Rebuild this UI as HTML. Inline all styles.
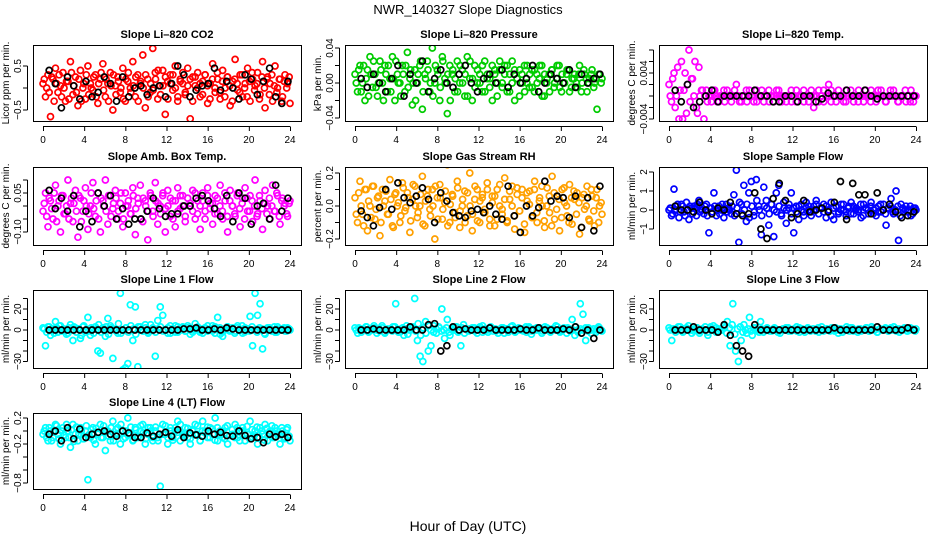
<!DOCTYPE html>
<html><head><meta charset="utf-8">
<style>
html,body{margin:0;padding:0;background:#fff;}
svg{display:block;font-family:"Liberation Sans",Arial,sans-serif;}
</style></head>
<body>
<svg id="chart" width="936" height="540" viewBox="0 0 936 540" xmlns="http://www.w3.org/2000/svg">
<text x="468" y="14" text-anchor="middle" font-size="13">NWR_140327  Slope Diagnostics</text>
<text x="468" y="531" text-anchor="middle" font-size="14">Hour of Day (UTC)</text>
</svg>
<script>
// ---- data (samples spread evenly over 0-24 h) ----
const hourTicks = [0,4,8,12,16,20,24];
const co2Vals = [0.1,-0.2,0.3,-0.65,0.2,0.45,-0.1,0.05,0.35,-0.3,0.15,0.6,-0.15,0.25,-0.4,0.4,0.0,-0.25,0.5,0.1,-0.05,0.3,-0.35,0.2,0.55,-0.2,0.1,0.35,-0.5,0.05,0.25,-0.1,0.45,-0.3,0.15,0.0,0.6,-0.2,0.3,0.1,0.75,-0.45,0.2,-0.1,0.9,0.35,-0.25,0.05,0.4,-0.6,0.15,0.3,-0.05,0.5,-0.3,0.2,0.1,-0.15,0.45,-0.7,0.25,0.05,0.35,-0.2,0.15,0.3,-0.35,0.1,0.55,-0.1,0.2,-0.25,0.4,0.0,0.25,-0.4,0.15,0.65,-0.05,0.3,-0.2,0.1,0.45,-0.3,0.2,0.05,0.35,-0.15,0.6,-0.45,0.25,0.1,-0.3,0.5,0.0,0.2,-0.2,0.3,0.1,-0.35];
const co2Vals2 = [0.2,0.0,-0.1,0.25,-0.3,0.1,0.3,-0.2,0.0,0.15,-0.25,0.35,0.05,-0.1,0.2,-0.3,0.1,0.3,-0.15,0.0,0.25,-0.2,0.1,0.35,-0.05,0.2,-0.3,0.05,0.3,-0.15,0.15,0.0,-0.25,0.2,0.35,-0.1,0.05,0.25,-0.3,0.15,0.0,0.3,-0.2,0.1,-0.05,0.2,0.4,-0.15,0.05,0.25,-0.25,0.1,0.3,0.0,-0.2,0.15,0.35,-0.1,0.05,0.2,-0.3,0.25,0.0,0.1,-0.15,0.3,0.05,-0.25,0.2,0.0,0.35,-0.1,0.15,-0.2,0.25,0.05,-0.3,0.2,0.1,-0.1,0.3,0.0,-0.2,0.15,0.35,-0.05,0.1,-0.25,0.25,0.0,0.2,-0.15,0.3,0.05,-0.1,0.2,-0.3,0.15,0.0,0.25];
const co2Ref = [0.4,0.1,-0.45,0.25,0.05,-0.25,0.15,-0.2,-0.1,0.25,0.1,-0.3,0.25,-0.2,0.0,0.05,-0.15,0.0,0.05,-0.2,0.1,0.5,0.3,-0.2,-0.05,0.05,0.1,0.45,-0.05,0.15,0.0,-0.25,0.3,0.2,-0.15,0.15,0.45,-0.2,-0.35,0.15];
const presVals = [0.01,-0.01,0.02,0.0,-0.02,0.015,0.03,-0.005,0.01,-0.015,0.025,0.0,0.02,-0.01,0.005,0.03,-0.02,0.01,0.0,0.02,-0.01,0.035,0.005,-0.025,0.015,0.0,0.02,-0.03,0.01,0.025,-0.01,0.04,0.0,0.015,-0.02,0.03,0.005,-0.035,0.02,0.01,-0.01,0.025,0.0,0.015,-0.015,0.03,0.005,-0.02,0.02,0.0,0.01,-0.01,0.025,0.005,-0.005,0.02,0.01,-0.015,0.015,0.0,0.02,-0.01,0.01,0.025,-0.02,0.005,0.015,0.0,-0.01,0.02,0.01,-0.005,0.015,0.0,0.02,-0.015,0.01,0.005,-0.01,0.015,0.0,0.02,-0.005,0.01,0.0,0.015,-0.01,0.005,0.01,-0.005,0.02,0.0,0.01,-0.01,0.005,0.015,0.0,-0.03,0.01,0.005];
const presVals2 = [0.0,0.015,-0.01,0.02,0.005,-0.015,0.01,0.025,-0.005,0.0,0.015,-0.02,0.01,0.02,-0.01,0.005,0.025,0.0,-0.015,0.01,0.02,-0.005,0.015,0.0,-0.02,0.01,0.025,-0.01,0.005,0.015,0.0,-0.015,0.02,0.01,-0.005,0.025,0.0,0.01,-0.02,0.015,0.005,-0.01,0.02,0.0,0.01,-0.015,0.025,0.005,-0.005,0.015,0.0,0.02,-0.01,0.01,0.005,-0.02,0.015,0.0,0.025,-0.005,0.01,0.02,-0.01,0.0,0.015,0.005,-0.015,0.01,0.02,0.0,-0.005,0.015,-0.01,0.01,0.005,0.02,-0.015,0.0,0.01,0.015,-0.005,0.005,0.02,-0.01,0.0,0.01,0.015,-0.005,0.005,0.0,0.01,-0.01,0.015,0.005,0.0,0.01,-0.005,0.005,0.01,0.0];
const presRef = [0.005,-0.005,0.01,0.0,-0.01,0.005,0.02,-0.015,0.01,0.0,0.025,-0.01,0.005,0.015,0.0,-0.005,0.01,0.02,0.0,-0.01,0.005,0.01,0.0,0.015,-0.005,0.01,0.0,0.005,0.02,-0.01,0.0,0.01,0.005,0.0,0.015,-0.005,0.01,0.0,0.005,0.01];
const tempVals = [0.002,-0.001,0.004,0.0,-0.004,0.006,0.001,-0.003,0.008,0.003,0.0,-0.002,0.005,0.001,-0.004,0.001,0.0,-0.001,0.001,0.0,-0.001,0.0,0.001,0.0,0.0,-0.001,0.0,0.002,0.0,-0.001,0.0,0.001,0.0,0.0,-0.001,0.001,0.0,0.0,-0.001,0.0,0.001,0.0,-0.001,0.0,0.001,0.0,0.0,-0.001,0.0,0.001,0.0,-0.001,0.0,0.0,0.001,0.0,-0.001,0.0,-0.002,0.0,0.001,0.0,-0.001,0.0,0.002,0.001,0.0,-0.001,0.0,0.0,-0.001,0.001,0.0,0.0,-0.001,0.0,0.001,0.0,-0.001,0.0,0.0,0.001,0.0,-0.001,0.0,0.001,0.0,-0.001,0.0,0.0,0.001,0.0,-0.001,0.0,0.0,-0.001,0.0,0.001,-0.001,0.0];
const tempVals2 = [0.0,0.003,-0.002,0.005,0.001,-0.004,0.004,0.002,-0.001,0.003,0.006,-0.003,0.0,0.001,0.0,-0.001,0.0,0.0,0.001,-0.001,0.0,0.0,-0.001,0.001,0.0,0.0,0.001,0.0,-0.001,0.0,0.0,-0.001,0.001,0.0,0.0,-0.001,0.0,0.001,0.0,0.0,-0.001,0.0,0.0,0.001,0.0,-0.001,0.0,0.0,0.0,-0.001,0.0,0.001,0.0,0.0,-0.001,0.0,0.0,0.001,0.0,0.0,-0.001,0.0,0.001,0.0,0.0,-0.001,0.0,0.0,0.001,0.0,0.0,-0.001,0.0,0.001,0.0,0.0,-0.001,0.0,0.0,0.001,0.0,-0.001,0.0,0.0,0.001,0.0,0.0,-0.001,0.0,0.001,0.0,0.0,-0.001,0.0,0.0,0.001,0.0,-0.001,0.0,0.0];
const tempRef = [0.001,-0.001,0.002,-0.002,-0.001,0.0,0.001,-0.001,0.0,0.0,0.0,0.0,0.0,0.001,0.0,0.0,-0.001,-0.001,0.0,0.0,-0.001,0.0,0.0,-0.001,-0.0005,0.0005,0.0,0.0,0.001,0.0,0.0,0.001,0.0,-0.0005,0.0,0.0,0.0,0.0,0.0,0.0];
const ambVals = [-0.02,0.05,-0.08,0.02,-0.05,0.08,0.0,-0.1,0.04,-0.03,0.1,0.01,-0.06,0.06,-0.12,0.03,-0.02,0.07,-0.09,0.0,0.09,-0.04,0.05,-0.1,0.02,0.1,-0.07,0.04,-0.01,0.06,-0.05,0.01,-0.08,0.05,0.0,-0.03,0.07,-0.11,0.03,0.08,-0.06,0.02,-0.13,0.05,-0.02,0.09,-0.07,0.0,0.04,-0.1,0.06,-0.04,0.02,-0.08,0.07,-0.01,0.04,-0.06,0.03,0.0,0.06,-0.05,0.02,-0.09,0.05,-0.02,0.07,0.01,-0.07,0.04,-0.03,0.08,-0.05,0.02,-0.1,0.06,0.0,-0.04,0.05,-0.08,0.03,0.07,-0.02,0.04,-0.06,0.1,-0.03,0.02,-0.09,0.06,0.0,-0.05,0.08,-0.02,0.04,-0.07,0.03,0.01,-0.04,0.02];
const ambVals2 = [0.01,-0.04,0.03,-0.01,0.05,-0.06,0.02,0.04,-0.03,0.0,-0.05,0.03,0.01,-0.02,0.04,-0.06,0.02,0.0,-0.03,0.05,-0.01,0.02,-0.05,0.03,0.0,-0.02,0.04,-0.04,0.01,0.03,-0.02,0.05,-0.05,0.0,0.02,-0.03,0.04,-0.01,0.01,-0.05,0.03,0.0,-0.02,0.04,-0.04,0.02,0.01,-0.03,0.05,-0.01,0.0,0.03,-0.05,0.02,-0.02,0.04,0.0,-0.04,0.03,0.01,-0.02,0.05,-0.03,0.0,0.02,-0.05,0.04,-0.01,0.01,-0.03,0.03,0.0,-0.02,0.05,-0.04,0.02,0.0,-0.03,0.04,-0.01,0.01,-0.05,0.03,-0.02,0.02,0.0,-0.04,0.04,-0.01,0.01,-0.03,0.03,0.0,-0.02,0.05,-0.04,0.02,0.0,-0.03,0.01];
const ambRef = [0.06,-0.01,0.03,-0.02,0.04,-0.08,-0.02,-0.06,0.05,0.0,0.04,-0.05,-0.01,-0.07,-0.05,-0.05,-0.02,0.03,-0.01,-0.04,-0.03,-0.03,0.0,0.0,0.03,0.04,0.02,-0.01,-0.04,0.04,-0.06,0.05,0.03,-0.07,0.0,0.01,-0.05,0.08,-0.02,0.03];
const rhVals = [0.05,-0.1,0.15,-0.05,0.1,-0.15,0.0,0.12,-0.08,0.05,-0.18,0.1,0.03,-0.05,0.16,-0.12,0.07,0.0,-0.1,0.14,-0.03,0.08,-0.16,0.04,0.12,-0.07,0.0,0.18,-0.12,0.06,-0.02,0.1,-0.2,0.05,0.13,-0.08,0.02,0.25,-0.1,0.07,-0.04,0.15,-0.13,0.0,0.09,-0.06,0.2,-0.15,0.04,0.1,-0.1,0.05,-0.02,0.14,-0.08,0.06,-0.12,0.1,0.0,-0.05,0.17,-0.09,0.04,0.12,-0.14,0.07,-0.03,0.1,-0.16,0.03,0.09,-0.07,0.15,-0.1,0.05,0.0,-0.13,0.11,-0.04,0.18,-0.08,0.06,-0.15,0.1,0.02,-0.06,0.13,-0.11,0.04,0.08,-0.17,0.05,-0.02,0.12,-0.09,0.06,-0.12,0.1,0.0,-0.05];
const rhVals2 = [-0.05,0.08,0.0,-0.12,0.1,0.03,-0.07,0.12,-0.02,0.06,-0.1,0.0,0.09,-0.05,0.04,-0.13,0.08,0.02,-0.06,0.11,-0.01,0.05,-0.09,0.13,0.0,-0.04,0.07,-0.11,0.03,0.1,-0.06,0.0,0.12,-0.08,0.05,-0.02,0.09,-0.12,0.01,0.06,-0.07,0.11,-0.03,0.04,-0.1,0.08,0.0,-0.05,0.12,-0.09,0.03,0.07,-0.04,0.1,-0.12,0.02,0.06,-0.08,0.13,-0.02,0.04,-0.1,0.09,0.0,-0.06,0.11,-0.03,0.05,-0.11,0.08,0.01,-0.07,0.1,-0.04,0.03,0.12,-0.09,0.0,0.06,-0.12,0.08,-0.02,0.04,-0.07,0.11,0.0,-0.1,0.05,0.09,-0.05,0.02,-0.13,0.07,0.0,-0.08,0.1,-0.03,0.05,-0.1,0.02];
const rhRef = [-0.03,-0.07,-0.12,-0.01,0.1,-0.02,0.14,0.05,0.02,0.06,0.11,0.04,-0.1,0.08,0.03,-0.04,-0.06,-0.07,-0.03,-0.02,-0.04,0.0,-0.05,-0.08,0.12,-0.06,-0.16,0.0,-0.06,-0.01,0.15,0.03,0.06,0.05,-0.07,0.06,-0.13,0.05,-0.15,0.12];
const flowVals = [0.0,-0.3,1.1,0.2,-0.4,0.3,-0.1,0.4,-0.5,0.1,0.2,-0.3,0.5,0.0,-0.2,0.3,-1.2,0.1,0.9,-0.3,0.2,0.0,-0.4,0.3,0.1,-0.2,0.8,2.1,-1.7,0.3,1.3,-0.6,0.9,1.5,-0.3,1.6,0.2,-1.3,1.2,0.5,-0.8,0.3,-1.4,0.9,1.3,-0.2,0.4,-0.7,0.1,0.9,-1.2,0.2,-0.5,0.3,-0.1,0.4,0.0,-0.3,0.2,0.5,-0.2,0.1,0.3,-0.4,0.0,0.4,-0.5,0.2,-0.1,0.3,0.0,-0.3,0.2,0.4,-0.2,0.1,0.0,-0.4,0.3,0.1,-0.2,0.4,0.0,-0.3,0.2,-0.1,0.3,-0.8,0.1,0.6,-0.2,1.0,-1.6,0.3,-0.1,0.2,0.0,-0.3,0.1,0.0];
const flowVals2 = [0.1,-0.2,0.0,0.3,-0.1,0.2,-0.3,0.0,0.2,-0.2,0.1,0.3,-0.1,0.0,0.2,-0.3,0.1,-0.1,0.2,0.0,-0.2,0.3,0.1,-0.1,0.0,0.2,-0.3,0.1,0.4,-0.2,0.0,0.3,-0.4,0.2,-0.1,0.5,0.0,-0.3,0.2,0.1,-0.2,0.3,0.0,-0.1,0.2,-0.3,0.1,0.0,0.3,-0.2,0.1,-0.1,0.2,0.0,-0.3,0.1,0.2,-0.1,0.0,0.3,-0.2,0.1,-0.1,0.2,0.0,-0.3,0.1,0.2,-0.2,0.0,0.3,-0.1,0.1,-0.2,0.2,0.0,-0.1,0.3,-0.3,0.1,0.0,0.2,-0.2,0.1,-0.1,0.3,0.0,-0.2,0.1,0.2,-0.1,0.0,0.2,-0.3,0.1,0.0,-0.1,0.2,-0.2,0.1];
const flowRef = [0.2,0.0,0.0,-0.1,0.4,0.0,-0.2,0.1,0.0,0.4,-0.2,-0.3,-0.2,0.9,-1.0,-1.5,0.6,1.4,0.5,-0.4,-0.2,0.5,-0.1,0.0,0.1,-0.1,0.4,1.5,-0.5,1.4,0.8,0.8,-0.2,0.9,0.0,0.3,-0.1,-0.4,-0.3,-0.1];
const line1Vals = [2,-15,3,-5,1,8,-2,4,0,-1,-3,5,-10,2,1,-8,3,-2,12,-5,1,3,-20,-22,2,-6,11,4,-27,0,-3,35,-38,-36,-32,24,-10,22,-35,3,-1,5,-2,0,2,-25,9,22,14,0,-3,4,1,-2,3,0,2,-1,4,0,-2,6,1,0,-3,2,4,0,-1,3,12,-4,-6,1,3,0,2,-1,4,0,-3,2,1,13,-15,35,14,25,-18,-4,2,1,0,-2,3,0,1,-1,2,0];
const line1Vals2 = [1,-2,3,0,-3,2,4,-1,1,-4,2,0,3,-2,1,-5,4,0,-1,2,-3,1,5,-2,0,3,-4,2,1,-1,6,-3,0,2,-2,4,1,-4,3,0,-1,2,-3,5,0,-2,1,3,-1,0,2,-3,1,4,-2,0,3,-1,2,-4,1,0,3,-2,1,2,-1,0,4,-3,1,2,-2,0,3,-1,1,-3,2,0,4,-2,1,-1,3,0,-2,2,1,-3,0,2,-1,3,-2,1,0,2,-1,1];
const line1Ref = [0,0,0,0,0,0,0,0,0,0,0,0,0,0,0,0,0,0,0,0,0,0,1,1,2,0,0,1,0,2,1,0,0,0,0,0,0,0,0,0];
const line2Vals = [2,-3,1,0,3,-2,1,4,0,-1,2,-3,1,0,3,25,-2,1,-5,4,0,2,30,-10,-25,-30,8,-20,-15,4,-3,2,20,-8,10,-5,0,3,-2,-15,5,1,-1,0,2,-3,1,4,0,-2,3,1,-1,0,2,-3,1,0,4,-2,1,0,-1,3,2,-4,1,0,2,-1,3,0,-2,1,4,0,-1,2,-3,1,10,-5,0,25,15,-10,2,-3,1,0,2,-1];
const line2Vals2 = [0,2,-2,1,3,-1,0,2,-3,1,4,-2,0,1,-1,3,0,-2,2,1,-4,0,3,-1,6,-5,2,-3,4,0,-2,1,3,-1,0,2,-2,1,0,3,-1,2,-3,0,1,2,-1,0,3,-2,1,0,2,-1,1,-3,0,2,1,-2,3,0,-1,2,0,1,-2,3,-1,0,2,1,-3,0,2,-1,1,0,3,-2,0,1,2,-1,0,3,-2,1,0,2,-1,0,1,-2,3,0];
const line2Ref = [0,0,1,0,0,0,0,0,3,0,0,5,6,-20,-15,3,0,1,0,0,0,2,0,0,0,0,1,0,0,2,0,0,0,1,0,3,-3,0,-8,0];
const line3Vals = [2,-10,1,0,3,-2,1,4,0,-1,2,-3,1,0,-5,3,4,-2,1,0,2,8,-15,25,-20,-30,-10,5,-3,12,-5,2,0,8,-2,1,0,-1,2,0,-3,1,0,2,-1,0,3,-2,1,0,2,-1,1,0,-2,3,0,1,-1,0,2,-3,1,0,3,-1,2,0,-2,1,0,2,-1,3,0,-2,1,0,2,-1,0,3,1,-2,0,1,-1,2,0,1];
const line3Vals2 = [0,1,-2,3,0,-1,2,0,-3,1,2,-1,0,3,-2,1,0,2,-1,0,4,-3,2,5,-4,1,3,-2,0,1,-1,2,0,-2,1,0,2,-1,0,1,-2,0,1,2,-1,0,1,-1,2,0,-2,1,0,1,-1,2,0,-1,1,0,2,-1,0,1,-2,0,1,2,-1,0,1,-1,0,2,-1,1,0,-2,1,0,1,-1,2,0,-1,1,0,2,-1,0,1,-1];
const line3Ref = [0,0,0,3,0,0,0,-2,5,-5,-15,-20,-25,5,0,0,0,0,0,0,0,0,0,0,0,0,2,0,0,0,0,0,0,3,0,0,0,0,2,0];
const line4Vals = [-0.05,0.05,-0.15,0.0,-0.1,0.1,-0.05,-0.2,0.05,-0.1,0.0,-0.25,0.1,-0.05,-0.15,0.05,-0.12,0.0,-0.75,-0.1,0.05,-0.2,-0.05,0.1,-0.1,-0.3,0.0,-0.15,0.15,-0.05,0.05,-0.2,0.0,-0.1,0.2,-0.05,-0.15,0.05,-0.1,0.0,0.1,-0.2,-0.05,0.05,-0.15,0.0,-0.1,-0.85,0.1,-0.05,-0.2,0.05,-0.1,0.0,0.15,-0.15,-0.05,0.05,-0.1,-0.2,0.0,0.1,-0.05,-0.15,0.15,0.0,-0.1,0.05,-0.05,0.2,-0.15,0.0,-0.1,0.05,-0.2,-1.02,-0.05,0.1,-0.1,0.0,0.05,-0.15,-0.05,0.15,-0.1,0.0,-0.2,0.05,-0.05,0.1,-0.15,0.0,-0.1,0.05,-0.05,-0.2,0.0,-0.1,0.05,-0.15];
const line4Vals2 = [0.0,-0.1,0.05,-0.15,-0.02,0.08,-0.12,0.0,-0.06,0.1,-0.1,0.02,-0.16,0.06,-0.04,0.0,-0.12,0.08,-0.06,0.02,-0.14,0.04,-0.02,-0.1,0.08,0.0,-0.08,0.05,-0.15,0.02,-0.05,0.1,-0.12,0.0,-0.06,0.06,-0.14,0.02,-0.08,0.08,-0.03,-0.12,0.05,0.0,-0.1,0.06,-0.15,0.03,-0.05,0.08,-0.1,0.0,-0.14,0.05,-0.02,0.1,-0.08,-0.04,0.04,-0.12,0.02,-0.06,0.08,-0.15,0.0,-0.03,0.06,-0.1,0.03,-0.14,0.05,-0.05,0.0,-0.12,0.08,-0.07,0.02,-0.1,0.05,-0.15,0.0,-0.04,0.07,-0.12,0.02,-0.06,0.06,-0.1,0.0,-0.14,0.04,-0.03,0.08,-0.1,0.0,-0.06,0.05,-0.12,0.02,-0.08];
const line4Ref = [-0.05,0.0,-0.15,0.05,-0.12,0.03,-0.1,-0.05,-0.02,0.0,-0.05,-0.08,0.0,-0.03,-0.1,-0.1,-0.03,-0.08,-0.05,-0.02,-0.08,0.02,-0.1,-0.03,-0.06,-0.08,0.0,-0.05,-0.02,-0.07,-0.08,0.0,-0.07,-0.12,-0.1,-0.18,-0.05,-0.09,-0.05,-0.1];

// ---- layout ----
const NS = "http://www.w3.org/2000/svg";
const svg = document.getElementById('chart');
const cols = [[33,301],[345,613],[659,927]];
const rows = [[45,121],[167,245],[290,368],[413,489]];
const lineTicks = [-30,-20,-10,0,10,20,30];
const panels = [
 {key:'co2',title:'Slope Li\u2013820 CO2',ylab:'Licor ppm per min.',c:0,r:0,col:'#ff0000',vals:co2Vals,vals2:co2Vals2,ref:co2Ref,a:[0.5,66],b:[-0.5,110],ticks:[-0.5,0,0.5],labels:{'-0.5':'\u22120.5','0.5':'0.5'}},
 {key:'pressure',title:'Slope Li\u2013820 Pressure',ylab:'kPa per min.',c:1,r:0,col:'#00cc00',vals:presVals,vals2:presVals2,ref:presRef,a:[0.04,48],b:[-0.04,118],ticks:[-0.04,-0.02,0,0.02,0.04],labels:{'-0.04':'\u22120.04','0':'0.00','0.04':'0.04'}},
 {key:'temp',title:'Slope Li\u2013820 Temp.',ylab:'degrees C per min.',c:2,r:0,col:'#ff00ff',vals:tempVals,vals2:tempVals2,ref:tempRef,a:[0.004,73],b:[0,96],ticks:[-0.004,-0.002,0,0.002,0.004,0.006,0.008],labels:{'-0.004':'\u22120.004','0.004':'0.004'}},
 {key:'ambtemp',title:'Slope Amb. Box Temp.',ylab:'degrees C per min.',c:0,r:1,col:'#ff00ff',vals:ambVals,vals2:ambVals2,ref:ambRef,a:[0.05,193],b:[0,206],ticks:[-0.1,-0.05,0,0.05,0.1],labels:{'-0.1':'\u22120.10','0.05':'0.05'}},
 {key:'rh',title:'Slope Gas Stream RH',ylab:'percent per min.',c:1,r:1,col:'#ffa000',vals:rhVals,vals2:rhVals2,ref:rhRef,a:[0.2,173],b:[0,206],ticks:[-0.2,-0.1,0,0.1,0.2],labels:{'-0.2':'\u22120.2','0':'0.0','0.2':'0.2'}},
 {key:'sampleflow',title:'Slope Sample Flow',ylab:'ml/min per min.',c:2,r:1,col:'#0000ff',vals:flowVals,vals2:flowVals2,ref:flowRef,a:[2,172],b:[0,210],ticks:[-1,0,1,2],labels:{'-1':'\u22121','0':'0','1':'1','2':'2'}},
 {key:'line1',title:'Slope Line 1 Flow',ylab:'ml/min per min.',c:0,r:2,col:'#00ffff',vals:line1Vals,vals2:line1Vals2,ref:line1Ref,a:[20,309],b:[0,330],ticks:lineTicks,labels:{'-30':'\u221230','0':'0','20':'20'}},
 {key:'line2',title:'Slope Line 2 Flow',ylab:'ml/min per min.',c:1,r:2,col:'#00ffff',vals:line2Vals,vals2:line2Vals2,ref:line2Ref,a:[20,309],b:[0,330],ticks:lineTicks,labels:{'-30':'\u221230','0':'0','20':'20'}},
 {key:'line3',title:'Slope Line 3 Flow',ylab:'ml/min per min.',c:2,r:2,col:'#00ffff',vals:line3Vals,vals2:line3Vals2,ref:line3Ref,a:[20,309],b:[0,330],ticks:lineTicks,labels:{'-30':'\u221230','0':'0','20':'20'}},
 {key:'line4',title:'Slope Line 4 (LT) Flow',ylab:'ml/min per min.',c:0,r:3,col:'#00ffff',vals:line4Vals,vals2:line4Vals2,ref:line4Ref,a:[0.2,418],b:[0,431],ticks:[-0.8,-0.6,-0.4,-0.2,0,0.2],labels:{'-0.8':'\u22120.8','-0.2':'\u22120.2','0.2':'0.2'}}
];

function mk(tag, attrs, parent){
  const e = document.createElementNS(NS, tag);
  for (const k in attrs) e.setAttribute(k, attrs[k]);
  (parent||svg).appendChild(e);
  return e;
}

panels.forEach(p => {
  const [x0,x1] = cols[p.c], [y0,y1] = rows[p.r];
  const g = mk('g', {});
  
  
  const xs = h => (x0+10) + h/24*((x1-11)-(x0+10));
  const ys = v => p.b[1] + (v - p.b[0]) * (p.a[1]-p.b[1])/(p.a[0]-p.b[0]);
  const cid = 'clip-' + p.key;
  const cp = mk('clipPath', {id:cid}, g);
  mk('rect', {x:x0, y:y0, width:x1-x0, height:y1-y0}, cp);
  const t = mk('text', {x:(x0+x1)/2, y:y0-7, 'text-anchor':'middle', 'font-size':'11', 'font-weight':'bold'}, g);
  t.textContent = p.title;
  
  
  const yl = mk('text', {x:0, y:0, 'text-anchor':'middle', 'font-size':'10', transform:`translate(${x0-24},${(y0+y1)/2}) rotate(-90)`}, g);
  yl.textContent = p.ylab;
  
  
  const pts = mk('g', {'clip-path':`url(#${cid})`, fill:'none', 'stroke-width':'1.7'}, g);
  const n = p.vals.length;
  p.vals.forEach((v,i) => {
    const c = mk('circle', {cx:xs(i*24/(n-1)), cy:ys(v), r:3, stroke:p.col}, pts);
    
    
  });
  const n2 = p.vals2.length;
  p.vals2.forEach((v,i) => {
    const c = mk('circle', {cx:xs(0.12 + i*23.8/(n2-1)), cy:ys(v), r:3, stroke:p.col}, pts);
    
    
  });
  const m = p.ref.length;
  p.ref.forEach((v,i) => {
    const c = mk('circle', {cx:xs(0.6 + i*23.2/(m-1)), cy:ys(v), r:3, stroke:'#000'}, pts);
    
    
  });
  const bx = mk('rect', {x:x0+0.5, y:y0+0.5, width:x1-x0, height:y1-y0, fill:'none', stroke:'#000', 'stroke-width':'1'}, g);
  
  
  const xa = mk('g', {stroke:'#000', 'stroke-width':'1'}, g);
  
  
  mk('line', {x1:xs(0), x2:xs(24), y1:y1+5.5, y2:y1+5.5}, xa);
  hourTicks.forEach(h => {
    mk('line', {x1:xs(h)+0.5, x2:xs(h)+0.5, y1:y1+5.5, y2:y1+10}, xa);
    const tl = mk('text', {x:xs(h), y:y1+22, 'text-anchor':'middle', 'font-size':'10', stroke:'none'}, xa);
    tl.textContent = h;
    
    
  });
  const ya = mk('g', {stroke:'#000', 'stroke-width':'1'}, g);
  
  
  const tv = p.ticks.filter(v => ys(v) >= y0-0.5 && ys(v) <= y1+0.5);
  mk('line', {x1:x0-5.5, x2:x0-5.5, y1:ys(tv[0]), y2:ys(tv[tv.length-1])}, ya);
  tv.forEach(v => {
    mk('line', {x1:x0-10, x2:x0-5.5, y1:ys(v), y2:ys(v)}, ya);
    const lab = p.labels[String(v)];
    if (lab) {
      const tl = mk('text', {x:0, y:0, 'text-anchor':'middle', 'font-size':'10', stroke:'none', transform:`translate(${x0-12},${ys(v)}) rotate(-90)`}, ya);
      tl.textContent = lab;
      
      
    }
  });
});
</script>
</body></html>
